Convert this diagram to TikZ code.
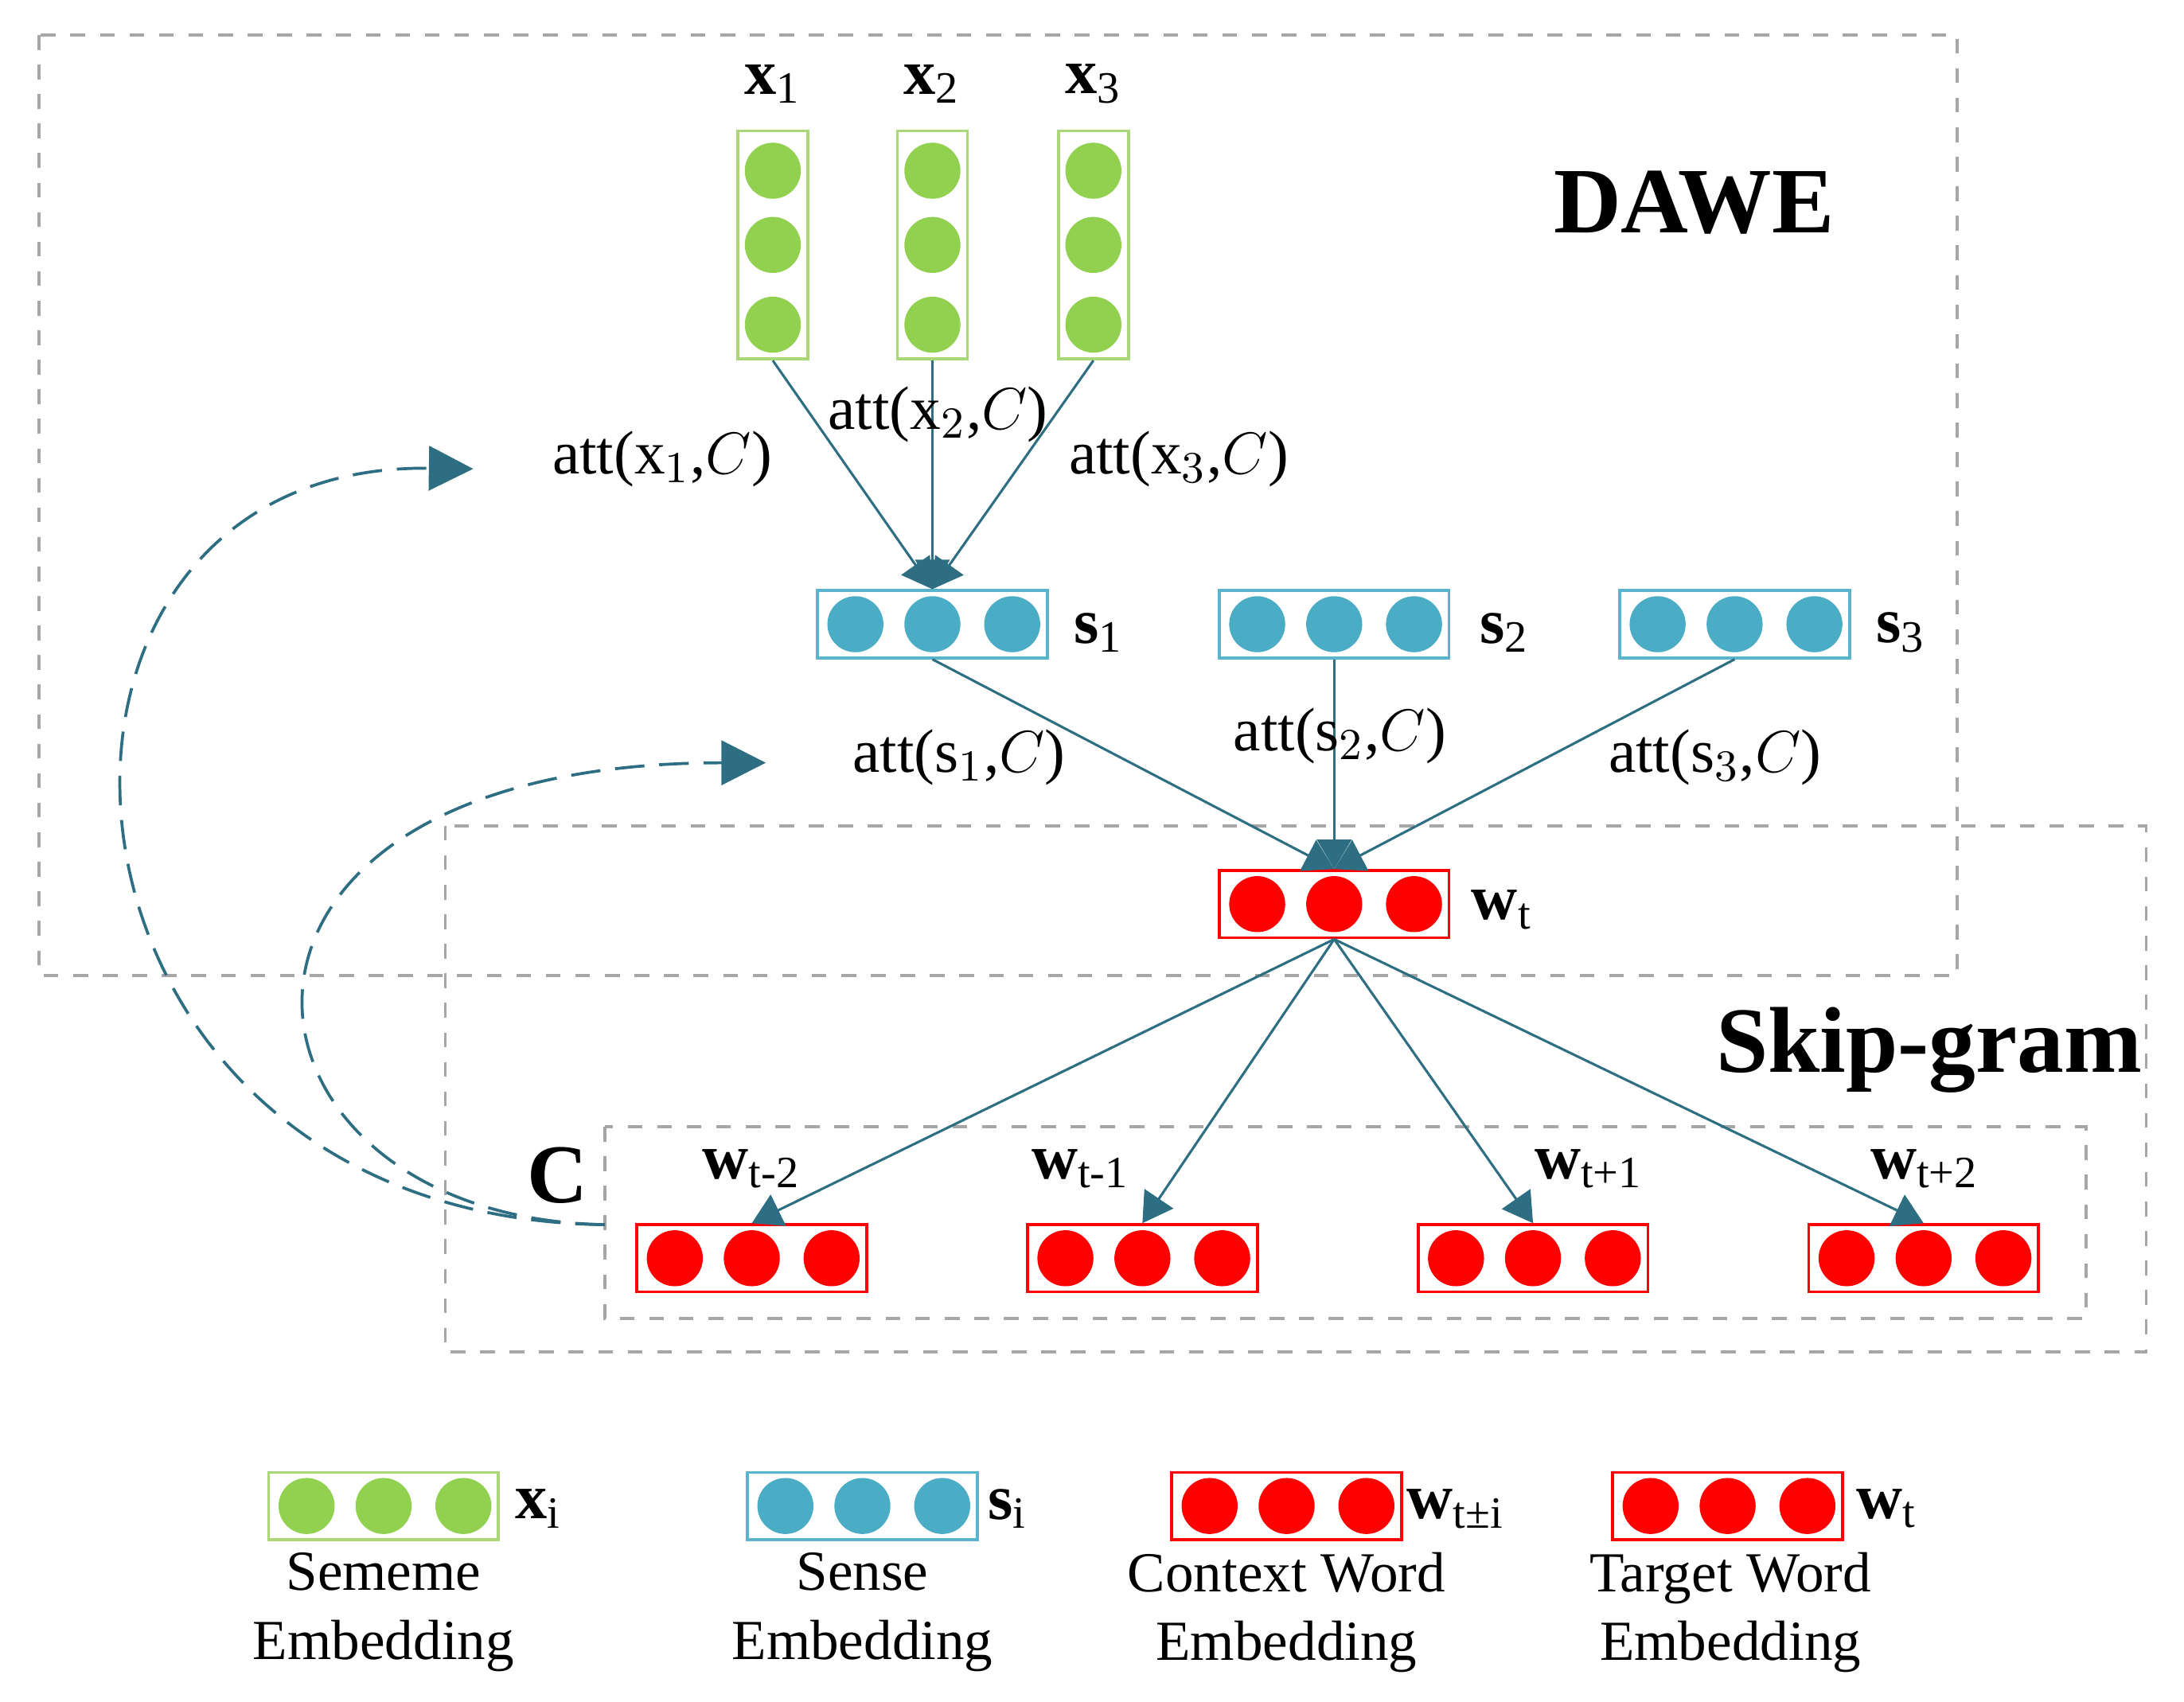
\documentclass[tikz,border=0pt]{standalone}
\usepackage{fontspec}
\setmainfont{Liberation Serif}
\usetikzlibrary{arrows.meta,calc}
\definecolor{gr}{RGB}{146,208,80}
\definecolor{grb}{RGB}{170,215,120}
\definecolor{bl}{RGB}{75,172,198}
\definecolor{blb}{RGB}{90,180,205}
\definecolor{rd}{RGB}{255,0,0}
\definecolor{ln}{RGB}{45,110,130}
\tikzset{
 box/.style={draw=gray!70,dashed,line width=0.6pt},
 dot/.style={circle,minimum size=0.4cm,inner sep=0pt},
 hbox/.style={rectangle,minimum width=1.64cm,minimum height=0.48cm,inner sep=0pt,line width=0.6pt},
 vbox/.style={rectangle,minimum width=0.5cm,minimum height=1.63cm,inner sep=0pt,line width=0.6pt},
 con/.style={draw=ln,line width=0.5pt,-{Triangle[length=6pt,width=7pt]}},
 lab/.style={font=\fontsize{12.5}{15}\selectfont},
 blab/.style={font=\fontsize{13}{15}\selectfont\bfseries},
 leg/.style={font=\fontsize{11.5}{14}\selectfont,align=center},
 fb/.style={ln,dash pattern=on 6pt off 3pt,line width=0.6pt,-{Triangle[length=9pt,width=9pt]}}
}
\newcommand{\hemb}[4]{% pos, name, fill, border
 \node[hbox,draw=#4] (#2) at #1 {};
 \foreach \d in {-55,0,57}{\node[dot,fill=#3] at ($(#2)+(\d,0)$) {};}
}
\begin{document}
\begin{tikzpicture}[x=0.01cm,y=-0.01cm]
\useasboundingbox (0,0) rectangle (1560,1216);
\draw[box] (28,25) rectangle (1398,697);
\draw[box] (318,590) rectangle (1533,966);
\draw[box] (432,805) rectangle (1490,942);
\node[font=\fontsize{19}{22}\selectfont\bfseries] (dawe) at (1210,145) {DAWE};
\node[font=\fontsize{19}{22}\selectfont\bfseries] (sg) at (1378,750) {Skip-gram};
\node[font=\fontsize{17}{20}\selectfont\bfseries] (cl) at (398,840) {C};
% sememes
\foreach \n/\x in {1/552,2/666,3/781}{
 \node[vbox,draw=grb] (x\n) at (\x,175) {};
 \foreach \y in {122,175,232}{\node[dot,fill=gr] at (\x,\y) {};}
 \node[blab] at (\x,60) {x\textsubscript{\mdseries\n}};
}
% senses
\hemb{(666,446)}{s1}{bl}{blb}
\hemb{(953,446)}{s2}{bl}{blb}
\hemb{(1239,446)}{s3}{bl}{blb}
\node[blab] at (785,452) {s\textsubscript{\mdseries 1}};
\node[blab] at (1075,452) {s\textsubscript{\mdseries 2}};
\node[blab] at (1358,452) {s\textsubscript{\mdseries 3}};
% target
\hemb{(953,646)}{wt}{rd}{rd}
\node[blab] at (1073,650) {w\textsubscript{\mdseries t}};
% context
\hemb{(537,899)}{c1}{rd}{rd}
\hemb{(816,899)}{c2}{rd}{rd}
\hemb{(1095,899)}{c3}{rd}{rd}
\hemb{(1374,899)}{c4}{rd}{rd}
\node[blab] at (537,835) {w\textsubscript{\mdseries t-2}};
\node[blab] at (772,835) {w\textsubscript{\mdseries t-1}};
\node[blab] at (1135,835) {w\textsubscript{\mdseries t+1}};
\node[blab] at (1375,835) {w\textsubscript{\mdseries t+2}};
% connectors
\foreach \n in {1,2,3}{\draw[con] (x\n.south) -- (s1.north);}
\foreach \n in {1,2,3}{\draw[con] (s\n.south) -- (wt.north);}
\foreach \n in {1,2,3,4}{\draw[con] (wt.south) -- (c\n.north);}
% att labels
\node[lab] at (473,328) {att(x$_1$,$C$)};
\node[lab] at (670,296) {att(x$_2$,$C$)};
\node[lab] at (842,328) {att(x$_3$,$C$)};
\node[lab] at (685,541) {att(s$_1$,$C$)};
\node[lab] at (957,526) {att(s$_2$,$C$)};
\node[lab] at (1225,541) {att(s$_3$,$C$)};
% dashed curves
\coordinate (cs) at (432,875);
\coordinate (a1) at (338,335);
\coordinate (a2) at (547,545);
\draw[fb] (cs) .. controls (10,870) and (-20,330) .. (a1);
\draw[fb] (cs) .. controls (150,870) and (110,545) .. (a2);
% legend
\hemb{(274,1076)}{lg}{gr}{grb}
\hemb{(616,1076)}{lb}{bl}{blb}
\hemb{(919,1076)}{lr}{rd}{rd}
\hemb{(1234,1076)}{lt}{rd}{rd}
\node[blab] at (385,1078) {x\textsubscript{\mdseries i}};
\node[blab] at (720,1078) {s\textsubscript{\mdseries i}};
\node[blab] at (1040,1078) {w\textsubscript{\mdseries t±i}};
\node[blab] at (1348,1078) {w\textsubscript{\mdseries t}};
\node[leg] at (274,1152) {Sememe\\Embedding};
\node[leg] at (616,1152) {Sense\\Embedding};
\node[leg] at (919,1152) {Context Word\\Embedding};
\node[leg] at (1236,1152) {Target Word\\Embedding};
\end{tikzpicture}
\end{document}
